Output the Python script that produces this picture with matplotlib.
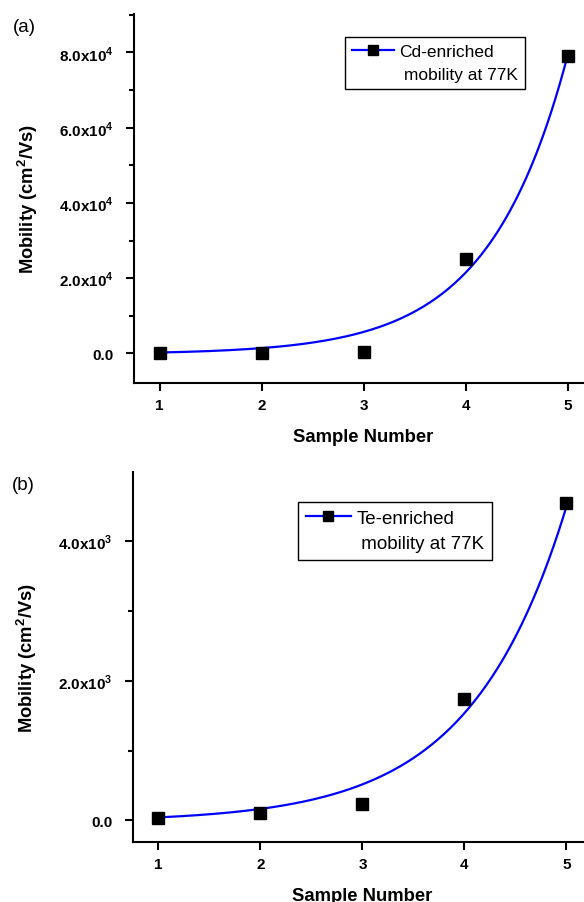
import numpy as np
import matplotlib
matplotlib.use("Agg")
import matplotlib.pyplot as plt
from matplotlib.lines import Line2D
from matplotlib.ticker import FuncFormatter, MultipleLocator

plt.rcParams['font.family'] = ['Liberation Sans', 'DejaVu Sans']
plt.rcParams['mathtext.fontset'] = 'custom'
plt.rcParams['mathtext.rm'] = 'Liberation Sans'
plt.rcParams['mathtext.bf'] = 'Liberation Sans:bold'

# data
samples = [1, 2, 3, 4, 5]
cd_mobility = [0, 0, 500, 25000, 79000]
te_mobility = [40, 100, 240, 1740, 4550]

# exponential growth fits (y = y0 + A*exp(x/t)), parameters
cd_fit = dict(y0=-200, A=120, t=0.77)
te_fit = dict(y0=-20, A=22, t=0.939)

cd_label = ['Cd-enriched', ' mobility at 77K']
te_label = ['Te-enriched', ' mobility at 77K']


def sci_formatter(exp):
    def f(v, pos):
        if abs(v) < 1e-9:
            return '0.0'
        return '%.1fx10$^{\\mathbf{%d}}$' % (v / 10 ** exp, exp)
    return FuncFormatter(f)


def panel(ax, y, fit, labels, exp, ylim, major, minor, tag, leg_xy, leg_fs):
    xs = np.linspace(samples[0], samples[-1], 200)
    ys = fit['y0'] + fit['A'] * np.exp(xs / fit['t'])
    ax.plot(xs, ys, color='#0000ff', lw=1.6, zorder=2, clip_on=False)
    ax.plot(samples, y, 's', color='black', ms=8, zorder=3, clip_on=False)

    ax.set_xlim(0.75, 5.25)
    ax.set_ylim(*ylim)
    ax.xaxis.set_major_locator(MultipleLocator(1))
    ax.yaxis.set_major_locator(MultipleLocator(major))
    ax.yaxis.set_minor_locator(MultipleLocator(minor))
    ax.yaxis.set_major_formatter(sci_formatter(exp))
    ax.xaxis.set_major_formatter(FuncFormatter(lambda v, p: '%d' % v))

    for s in ['top', 'right']:
        ax.spines[s].set_visible(False)
    for s in ['left', 'bottom']:
        ax.spines[s].set_linewidth(1.5)
    ax.tick_params(which='major', direction='out', length=6, width=1.5,
                   labelsize=11)
    ax.tick_params(axis='x', pad=5)
    ax.tick_params(axis='y', pad=9)
    ax.tick_params(which='minor', direction='out', length=3.5, width=1.5)
    for lab in ax.get_xticklabels() + ax.get_yticklabels():
        lab.set_fontweight('bold')

    ax.set_xlabel('Sample Number', fontsize=13.3, fontweight='bold',
                  labelpad=11)
    ax.set_ylabel('Mobility (cm$^{\\mathbf{2}}$/Vs)', fontsize=13.2,
                  fontweight='bold')
    ax.yaxis.set_label_coords(-0.205, 0.5)

    handles = [Line2D([], [], color='#0000ff', lw=1.6, marker='s', ms=7,
                      mfc='black', mec='black'),
               Line2D([], [], color='none')]
    leg = ax.legend(handles, labels, loc='upper left', bbox_to_anchor=leg_xy,
                    fontsize=leg_fs, frameon=True, fancybox=False,
                    framealpha=1, edgecolor='black', handlelength=2.4,
                    handletextpad=0.3, labelspacing=0.45, borderpad=0.4,
                    borderaxespad=0)
    leg.get_frame().set_linewidth(1.0)

    ax.figure.text(ax.get_position().x0 - 0.207, ax.get_position().y1 - 0.014,
                   tag, fontsize=13.5, ha='left', va='center')


fig = plt.figure(figsize=(5.84, 9.03), dpi=100)
ax_a = fig.add_axes([0.2295, 0.5748, 0.786, 0.4086])
ax_b = fig.add_axes([0.2277, 0.0665, 0.786, 0.4097])

panel(ax_a, cd_mobility, cd_fit, cd_label, 4, (-0.785e4, 9.02e4), 2e4, 1e4,
      '(a)', (0.46, 0.938), 12.5)
panel(ax_b, te_mobility, te_fit, te_label, 3, (-0.308e3, 4.99e3), 2e3, 1e3,
      '(b)', (0.36, 0.919), 13.5)

fig.savefig('out.png', dpi=100)
